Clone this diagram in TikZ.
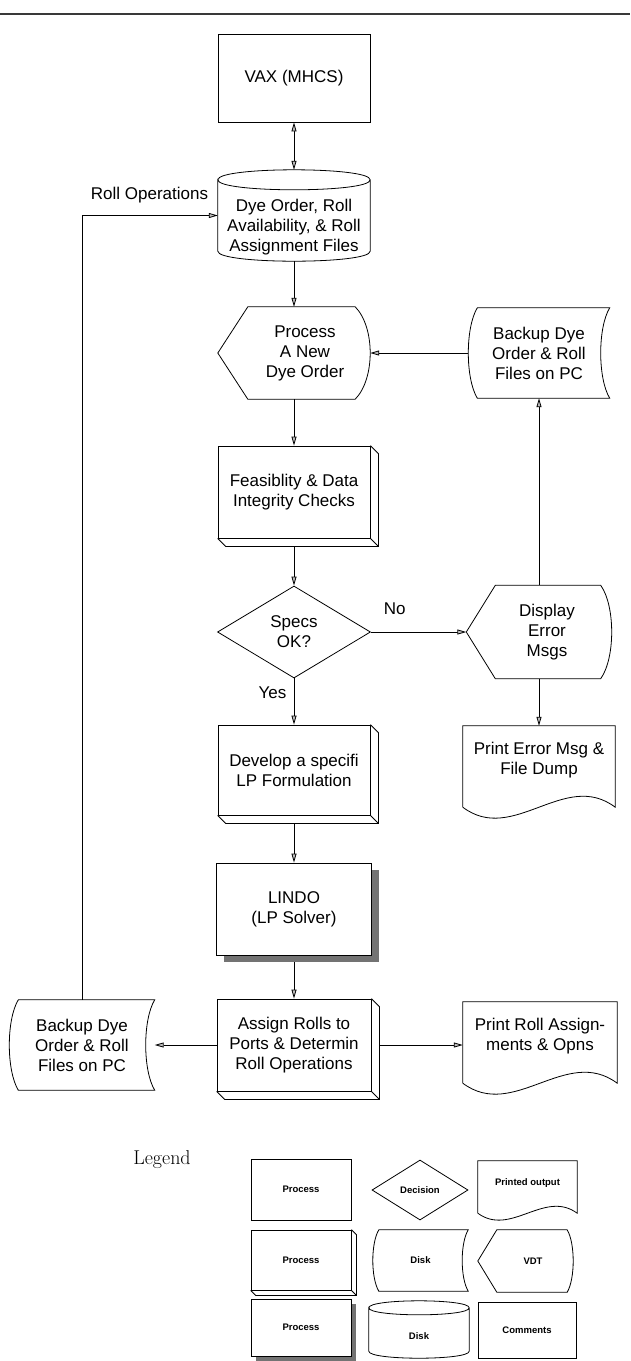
\documentclass[tikz,border=0pt]{standalone}
\usepackage{fontspec}
\newfontfamily\arial{Liberation Sans}
\usetikzlibrary{arrows.meta,shapes.geometric,shadows,positioning,calc}

\newcommand{\mainfnt}{\arial\fontsize{17}{20}\selectfont}
\newcommand{\legfnt}{\arial\bfseries\fontsize{9.5}{11}\selectfont}

% outlines of the flowchart symbols, drawn round a named node
\newcommand{\vdtline}[3]{% node, point inset, curve inset
  \draw[shapeline] (#1.west) -- ([xshift=#2]#1.north west) -- ([xshift=-#3]#1.north east)
    .. controls ($(#1.north east)!0.22!(#1.south east)+(#3/3,0)$) and ($(#1.north east)!0.78!(#1.south east)+(#3/3,0)$)
    .. ([xshift=-#3]#1.south east) -- ([xshift=#2]#1.south west) -- cycle;}
\newcommand{\storeline}[2]{% node, depth of the curved sides
  \draw[shapeline] ([xshift=#2]#1.north west) -- (#1.north east)
    .. controls ($(#1.north east)!0.22!(#1.south east)-(#2*4/3,0)$) and ($(#1.north east)!0.78!(#1.south east)-(#2*4/3,0)$) .. (#1.south east)
    -- ([xshift=#2]#1.south west)
    .. controls ($(#1.north west)!0.78!(#1.south west)+(#2-#2*4/3,0)$) and ($(#1.north west)!0.22!(#1.south west)+(#2-#2*4/3,0)$)
    .. ([xshift=#2]#1.north west) -- cycle;}
\newcommand{\docline}[2]{% node, wave height
  \draw[shapeline] (#1.south west) -- (#1.north west) -- (#1.north east) -- (#1.south east)
    .. controls ($(#1.south east)!0.33!(#1.south west)+(0,-#2)$) and ($(#1.south east)!0.67!(#1.south west)+(0,#2)$) .. (#1.south west);}
\newcommand{\cylline}[2]{% node, y radius of the ends
  \draw[shapeline] ([yshift=-#2]#1.north west)
    .. controls ([yshift=#2/3]#1.north west) and ([yshift=#2/3]#1.north east) .. ([yshift=-#2]#1.north east)
    .. controls ([yshift=-#2*7/3]#1.north east) and ([yshift=-#2*7/3]#1.north west) .. ([yshift=-#2]#1.north west)
    -- ([yshift=#2]#1.south west)
    .. controls ([yshift=-#2/3]#1.south west) and ([yshift=-#2/3]#1.south east) .. ([yshift=#2]#1.south east)
    -- ([yshift=-#2]#1.north east);}
\newcommand{\bevelline}[2]{% node, depth of the bevel
  \draw[shapeline] (#1.north east) -- ([xshift=#2,yshift=-#2]#1.north east) -- ([xshift=#2,yshift=-#2]#1.south east)
    -- ([xshift=#2,yshift=-#2]#1.south west) -- (#1.south west)
    (#1.south east) -- ([xshift=#2,yshift=-#2]#1.south east);}

\begin{document}
\begin{tikzpicture}[x=1pt, y=-1pt,
  >={Triangle[length=9pt,width=5pt,fill=gray!50]},
  conn/.style={line width=.8pt},
  shapeline/.style={line width=.8pt},
  box/.style={draw, line width=.8pt, minimum width=152pt, minimum height=88pt, inner sep=2pt, align=center, font=\mainfnt},
  shell/.style={minimum width=152pt, minimum height=88pt, inner sep=2pt, align=center, font=\mainfnt},
  lbl/.style={inner sep=0pt, align=center, font=\mainfnt},
  lgbox/.style={box, minimum width=100pt, minimum height=60pt, font=\legfnt},
  lgshell/.style={shell, minimum width=96pt, minimum height=60pt, font=\legfnt},
  lglbl/.style={lbl, font=\legfnt}]
\useasboundingbox (0,0) rectangle (630,1361);
\draw[line width=2.5pt, gray!45!black] (0,14) -- (630,14);

% main column
\node[box] (vax) at (294,78) {VAX (MHCS)};
\node[shell, minimum height=91pt, label={[lbl,yshift=-12pt]center:{Dye Order, Roll\\Availability, \& Roll\\Assignment Files}}] (files) at (294,215.5) {};
\node[shell, minimum height=92pt, label={[lbl,xshift=11pt]center:{Process\\A New\\Dye Order}}] (neworder) at (294,353) {};
\node[box, minimum height=92pt] (feas) at (294,492) {Feasiblity \& Data\\Integrity Checks};
\node[diamond, draw, line width=.8pt, inner sep=0pt, aspect=1.66, minimum width=153pt, minimum height=92pt, align=center, font=\mainfnt] (dec) at (294,632) {Specs\\OK?};
\node[box, minimum height=90pt] (dev) at (294,770) {Develop a specifi\\LP Formulation};
\node[box, fill=white, minimum width=155pt, minimum height=92pt,
  drop shadow={shadow xshift=7pt, shadow yshift=-7pt, fill=black!55, opacity=1}] (lindo) at (294,909) {LINDO\\(LP Solver)};
\node[box, minimum width=154pt, minimum height=92pt] (assign) at (294,1045) {Assign Rolls to\\Ports \& Determin\\Roll Operations};

% side columns
\node[shell, minimum width=141pt, minimum height=90pt] (backup1) at (539,353) {Backup Dye\\Order \& Roll\\Files on PC};
\node[shell, minimum width=145pt, minimum height=93pt, label={[lbl,xshift=8pt]center:{Display\\Error\\Msgs}}] (display) at (539,632) {};
\node[shell, minimum height=81pt, label={[lbl,yshift=6.5pt]center:{Print Error Msg \&\\File Dump}}] (errprint) at (539,766.5) {};
\node[shell, minimum width=145pt, minimum height=90pt] (backup2) at (82,1045) {Backup Dye\\Order \& Roll\\Files on PC};
\node[shell, minimum width=154pt, minimum height=81pt, label={[lbl,yshift=6.5pt]center:{Print Roll Assign-\\ments \& Opns}}] (rollprint) at (540,1042.5) {};

% legend
\node[font=\fontsize{20}{24}\selectfont] (legend) at (162,1160) {Legend};
\node[lgbox, minimum height=61pt] (lgproc) at (301,1189.5) {Process};
\node[diamond, draw, line width=.8pt, inner sep=0pt, aspect=1.6, minimum width=96pt, minimum height=60pt, font=\legfnt] (lgdec) at (420,1190) {Decision};
\node[lgshell, minimum width=99pt, minimum height=52pt, label={[lglbl,yshift=4pt]center:{Printed output}}] (lgprint) at (527.5,1187) {};
\node[lgbox] (lgbevel) at (301,1260) {Process};
\node[lgshell, minimum width=95pt, minimum height=61pt] (lgstore) at (420.5,1260.5) {Disk};
\node[lgshell, minimum width=95pt, minimum height=62pt, label={[lglbl,xshift=7.5pt]center:{VDT}}] (lgvdt) at (525.5,1261) {};
\node[lgbox, fill=white, minimum height=57pt,
  drop shadow={shadow xshift=5pt, shadow yshift=-5pt, fill=black!55, opacity=1}] (lgshadow) at (301,1327.5) {Process};
\node[lgshell, minimum width=100pt, minimum height=57pt, label={[lglbl,yshift=-7pt]center:{Disk}}] (lgcyl) at (419,1329.5) {};
\node[lgbox, minimum width=98pt, minimum height=56pt] (lgcomm) at (527,1330) {Comments};

% symbol outlines
\foreach \n/\d in {feas/8, dev/8, assign/8, lgbevel/5} {\bevelline{\n}{\d}}
\foreach \n/\p/\c in {neworder/30/15, display/29/11, lgvdt/19/6} {\vdtline{\n}{\p}{\c}}
\foreach \n/\k in {backup1/9, backup2/9, lgstore/6} {\storeline{\n}{\k}}
\foreach \n/\a in {errprint/38, rollprint/38, lgprint/24} {\docline{\n}{\a}}
\foreach \n/\r in {files/10, lgcyl/7} {\cylline{\n}{\r}}

% connectors
\draw[conn,<->] (vax) -- (files);
\draw[conn,->] (files) -- (neworder);
\draw[conn,->] (backup1) -- (neworder);
\draw[conn,->] (neworder) -- (feas);
\draw[conn,->] ([yshift=-8pt]feas.south) -- (dec);
\draw[conn,->] (dec) -- node[above=14pt, pos=.25, font=\mainfnt] {No} (display);
\draw[conn,->] (dec) -- node[left=4pt, pos=.32, font=\mainfnt] {Yes} (dev);
\draw[conn,->] (display) -- (backup1);
\draw[conn,->] (display) -- (errprint);
\draw[conn,->] ([yshift=-8pt]dev.south) -- (lindo);
\draw[conn,->] ([yshift=-7pt]lindo.south) -- (assign);
\draw[conn,->] (assign) -- (backup2);
\draw[conn,->] ([xshift=8pt]assign.east) -- (assign.east -| rollprint.west);
\draw[conn,->] (backup2) |- node[pos=1, above left, xshift=-6pt, yshift=9pt, font=\mainfnt] {Roll Operations} (files);
\end{tikzpicture}
\end{document}
